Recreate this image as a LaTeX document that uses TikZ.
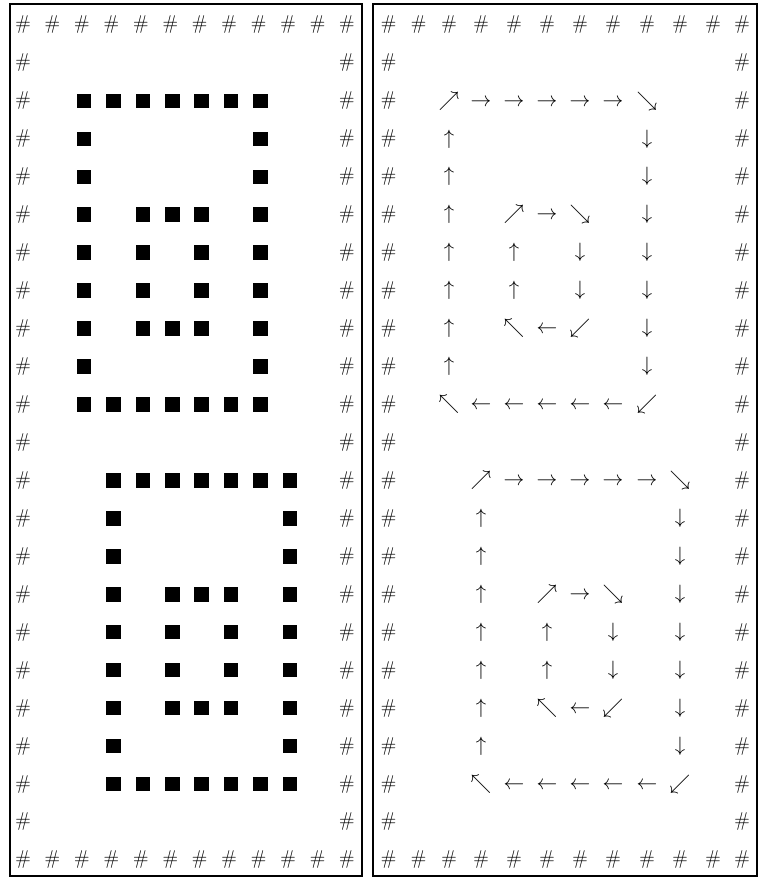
\documentclass[tikz,border=0pt]{standalone}
\usepackage{fontspec}
\tikzset{
  hash/.style={anchor=base, inner sep=0pt, font=\fontsize{20}{24}\selectfont},
  arr/.style={anchor=base, inner sep=0pt, font=\fontsize{20.74}{24}\selectfont},
  sq/.style={fill=black, draw=none, minimum size=14.5pt, inner sep=0pt},
  panel/.style={draw=black, line width=2pt},
}
\newcommand\sqlist{0/0,0/1,0/2,0/3,0/4,0/5,0/6,1/0,1/6,2/0,2/6,3/0,3/2,3/3,3/4,3/6,4/0,4/2,4/4,4/6,5/0,5/2,5/4,5/6,6/0,6/2,6/3,6/4,6/6,7/0,7/6,8/0,8/1,8/2,8/3,8/4,8/5,8/6}
\newcommand\arrlist{0/0/\nearrow,0/1/\rightarrow,0/2/\rightarrow,0/3/\rightarrow,0/4/\rightarrow,0/5/\rightarrow,0/6/\searrow,1/0/\uparrow,1/6/\downarrow,2/0/\uparrow,2/6/\downarrow,3/0/\uparrow,3/2/\nearrow,3/3/\rightarrow,3/4/\searrow,3/6/\downarrow,4/0/\uparrow,4/2/\uparrow,4/4/\downarrow,4/6/\downarrow,5/0/\uparrow,5/2/\uparrow,5/4/\downarrow,5/6/\downarrow,6/0/\uparrow,6/2/\nwarrow,6/3/\leftarrow,6/4/\swarrow,6/6/\downarrow,7/0/\uparrow,7/6/\downarrow,8/0/\nwarrow,8/1/\leftarrow,8/2/\leftarrow,8/3/\leftarrow,8/4/\leftarrow,8/5/\leftarrow,8/6/\swarrow}
\begin{document}
\begin{tikzpicture}[x=1pt,y=-1pt]
\useasboundingbox (0,0) rectangle (763,877);
% panels
\draw[panel] (9.5,4.5) rectangle (362,875.5);
\draw[panel] (373,4.5) rectangle (757,875.5);
% border hashes, top and bottom rows
\foreach \cc in {0,...,11}{
  \pgfmathsetmacro\xl{23+29.45*\cc}
  \pgfmathsetmacro\xr{{388.5,418.5,449,481,514,547,580,613,647,680,713,742}[\cc]}
  \foreach \rr in {0,22}{
    \pgfmathsetmacro\yb{25+37.95*\rr+5}
    \node[hash] (Lh-\rr-\cc) at (\xl,\yb) {\#};
    \node[hash] (Rh-\rr-\cc) at (\xr,\yb) {\#};
  }
}
% border hashes, side columns
\foreach \rr in {1,...,21}{
  \foreach \cc in {0,11}{
    \pgfmathsetmacro\xl{23+29.45*\cc}
    \pgfmathsetmacro\xr{{388.5,418.5,449,481,514,547,580,613,647,680,713,742}[\cc]}
    \pgfmathsetmacro\yb{25+37.95*\rr+5}
    \node[hash] (Lh-\rr-\cc) at (\xl,\yb) {\#};
    \node[hash] (Rh-\rr-\cc) at (\xr,\yb) {\#};
  }
}
% squares (left panel)
\foreach \ro/\co in {2/2,12/3}{
  \foreach \ra/\cb in \sqlist{
    \pgfmathsetmacro\xs{23+29.45*(\co+\cb)+2}
    \pgfmathsetmacro\ys{25+37.95*(\ro+\ra)}
    \node[sq] (S-\ro-\ra-\cb) at (\xs,\ys) {};
  }
}
% arrows (right panel)
\foreach \ro/\co in {2/2,12/3}{
  \foreach \ra/\cb/\sym in \arrlist{
    \pgfmathtruncatemacro\ci{\co+\cb}
    \pgfmathsetmacro\xa{{388.5,418.5,449,481,514,547,580,613,647,680,713,742}[\ci]}
    \pgfmathsetmacro\ya{25+37.95*(\ro+\ra)+5.19}
    \node[arr] (A-\ro-\ra-\cb) at (\xa,\ya) {$\sym$};
  }
}
\end{tikzpicture}
\end{document}
